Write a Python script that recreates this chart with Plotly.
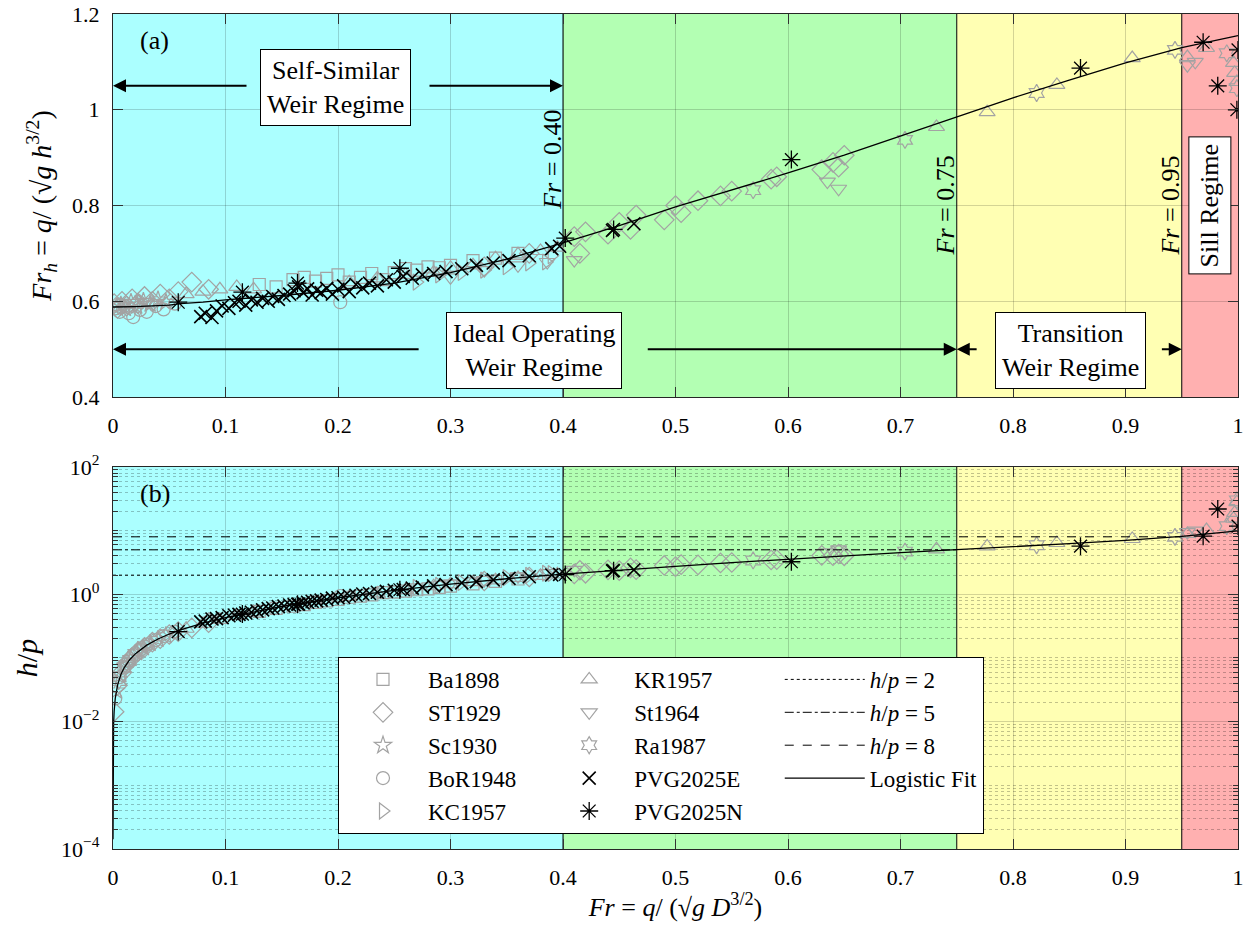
import plotly.graph_objects as go

FONT = "Liberation Serif"
GRAY = "#a3a3a3"

# ---------------- data: Fr, Fr_h and h/p for each source ----------------
ba1898_fr = [0.13, 0.145, 0.16, 0.17, 0.18, 0.19, 0.20, 0.21, 0.22, 0.23, 0.24, 0.25, 0.26, 0.27, 0.28, 0.29, 0.30, 0.32, 0.34, 0.36]
ba1898_frh = [0.635, 0.63, 0.645, 0.65, 0.642, 0.648, 0.655, 0.64, 0.65, 0.658, 0.645, 0.66, 0.668, 0.665, 0.672, 0.67, 0.675, 0.685, 0.69, 0.70]
ba1898_hp = [0.54, 0.60, 0.65, 0.69, 0.75, 0.79, 0.83, 0.90, 0.94, 0.98, 1.06, 1.08, 1.12, 1.18, 1.22, 1.29, 1.35, 1.46, 1.60, 1.74]

st1929_fr = [0.001, 0.004, 0.008, 0.012, 0.017, 0.022, 0.028, 0.035, 0.042, 0.05, 0.058, 0.07, 0.085,
             0.33, 0.37, 0.41, 0.415, 0.42, 0.44, 0.45, 0.46, 0.465, 0.49, 0.50, 0.505, 0.52, 0.54, 0.55,
             0.585, 0.59, 0.63, 0.64, 0.645, 0.65]
st1929_frh = [0.595, 0.585, 0.60, 0.59, 0.605, 0.595, 0.61, 0.60, 0.615, 0.605, 0.62, 0.64, 0.625,
              0.672, 0.70, 0.735, 0.70, 0.745, 0.74, 0.765, 0.75, 0.78, 0.77, 0.80, 0.785, 0.81, 0.82, 0.83,
              0.855, 0.86, 0.875, 0.89, 0.88, 0.905]
st1929_hp = [0.0143, 0.0373, 0.0596, 0.0805, 0.102, 0.125, 0.147, 0.177, 0.201, 0.234, 0.259, 0.297, 0.36,
             1.62, 1.87, 2.10, 2.39, 2.14, 2.42, 2.36, 2.60, 2.44, 2.84, 2.72, 2.92, 2.90, 3.11, 3.16,
             3.47, 3.50, 4.08, 4.04, 4.30, 4.03]

sc1930_fr = [0.003, 0.007, 0.011, 0.016, 0.021, 0.027, 0.033, 0.04, 0.047]
sc1930_frh = [0.588, 0.592, 0.585, 0.598, 0.59, 0.60, 0.594, 0.603, 0.598]
sc1930_hp = [0.0305, 0.0547, 0.0761, 0.0983, 0.121, 0.145, 0.170, 0.196, 0.225]

bor1948_fr = [0.002, 0.006, 0.01, 0.014, 0.018, 0.024, 0.03, 0.038, 0.045, 0.055, 0.202]
bor1948_frh = [0.585, 0.578, 0.59, 0.575, 0.567, 0.582, 0.578, 0.59, 0.583, 0.595, 0.598]
bor1948_hp = [0.0232, 0.050, 0.0707, 0.0917, 0.1115, 0.1355, 0.162, 0.1915, 0.221, 0.257, 0.942]

kc1957_fr = [0.01, 0.025, 0.27, 0.29, 0.31, 0.33, 0.35, 0.37, 0.385, 0.39]
kc1957_frh = [0.59, 0.60, 0.64, 0.655, 0.66, 0.665, 0.672, 0.68, 0.682, 0.695]
kc1957_hp = [0.0707, 0.137, 1.29, 1.38, 1.53, 1.68, 1.83, 1.99, 2.14, 2.12]

kr1957_fr = [0.065, 0.08, 0.095, 0.11, 0.125, 0.21, 0.235, 0.26, 0.285, 0.30, 0.32, 0.34, 0.36, 0.38, 0.395,
             0.732, 0.777, 0.839, 0.906, 0.955, 0.972, 0.996, 0.997, 0.999]
kr1957_frh = [0.615, 0.62, 0.625, 0.63, 0.625, 0.64, 0.648, 0.655, 0.66, 0.67, 0.675, 0.69, 0.698, 0.705, 0.712,
              0.964, 0.995, 1.052, 1.108, 1.11, 1.129, 1.098, 1.077, 1.058]
kr1957_hp = [0.288, 0.343, 0.398, 0.455, 0.52, 0.91, 1.035, 1.17, 1.34, 1.44, 1.55, 1.66, 1.81, 1.95, 2.06,
             5.1, 5.65, 6.4, 7.4, 8.9, 10.2, 15.5, 19.0, 28.0]

st1964_fr = [0.012, 0.03, 0.30, 0.33, 0.36, 0.386, 0.41, 0.635, 0.645, 0.955, 0.962]
st1964_frh = [0.59, 0.598, 0.65, 0.665, 0.675, 0.682, 0.686, 0.85, 0.835, 1.093, 1.10]
st1964_hp = [0.0805, 0.157, 1.48, 1.68, 1.92, 2.16, 2.42, 4.56, 5.1, 9.5, 10.0]

ra1987_fr = [0.005, 0.02, 0.569, 0.704, 0.821, 0.944, 0.99, 0.999]
ra1987_frh = [0.59, 0.595, 0.832, 0.937, 1.035, 1.125, 1.118, 1.045]
ra1987_hp = [0.0433, 0.116, 3.4, 4.7, 5.9, 8.0, 11.8, 30.0]

pvg2025e_fr = [0.078, 0.082, 0.088, 0.092, 0.097, 0.103, 0.108, 0.112, 0.118, 0.123, 0.128, 0.133, 0.138,
               0.142, 0.147, 0.152, 0.157, 0.161, 0.165, 0.169, 0.173, 0.177, 0.181, 0.185, 0.19, 0.195,
               0.20, 0.205, 0.21, 0.216, 0.222, 0.228, 0.235, 0.243, 0.25, 0.258, 0.266, 0.275, 0.285,
               0.296, 0.31, 0.323, 0.338, 0.352, 0.37, 0.39, 0.397, 0.444, 0.463]
pvg2025e_frh = [0.568, 0.575, 0.566, 0.58, 0.59, 0.585, 0.597, 0.60, 0.592, 0.603, 0.598, 0.606, 0.60,
                0.61, 0.604, 0.612, 0.615, 0.622, 0.63, 0.618, 0.626, 0.613, 0.623, 0.618, 0.627, 0.615,
                0.625, 0.632, 0.62, 0.635, 0.628, 0.638, 0.632, 0.645, 0.64, 0.652, 0.648, 0.655, 0.658,
                0.662, 0.668, 0.675, 0.68, 0.685, 0.695, 0.71, 0.715, 0.748, 0.762]
pvg2025e_hp = [0.37, 0.38, 0.41, 0.415, 0.43, 0.46, 0.47, 0.485, 0.51, 0.522, 0.548, 0.57, 0.595,
               0.61, 0.64, 0.655, 0.68, 0.69, 0.70, 0.735, 0.75, 0.78, 0.79, 0.81, 0.83, 0.87,
               0.885, 0.90, 0.95, 0.965, 1.01, 1.03, 1.08, 1.11, 1.16, 1.19, 1.25, 1.30, 1.36,
               1.42, 1.51, 1.58, 1.69, 1.78, 1.89, 2.01, 2.06, 2.33, 2.42]

pvg2025n_fr = [0.058, 0.115, 0.164, 0.255, 0.402, 0.445, 0.603, 0.86, 0.969, 0.982, 1.0, 0.999]
pvg2025n_frh = [0.598, 0.619, 0.638, 0.669, 0.732, 0.75, 0.896, 1.087, 1.141, 1.05, 1.125, 1.0]
pvg2025n_hp = [0.26, 0.49, 0.70, 1.18, 2.05, 2.35, 3.25, 5.7, 8.2, 21.9, 11.8, 150.0]

# logistic fit curve
fit_fr = [1e-6, 1e-5, 1e-4, 5e-4, 0.001, 0.002, 0.004, 0.007, 0.01, 0.015, 0.02, 0.03, 0.04, 0.05, 0.06,
          0.08, 0.10, 0.15, 0.20, 0.25, 0.30, 0.35, 0.40, 0.45, 0.50, 0.55, 0.60, 0.65, 0.70, 0.75, 0.80,
          0.85, 0.90, 0.95, 1.0]
fit_frh = [0.588, 0.588, 0.588, 0.588, 0.588, 0.588, 0.588, 0.588, 0.588, 0.589, 0.589, 0.590, 0.591, 0.592,
           0.595, 0.598, 0.603, 0.612, 0.623, 0.638, 0.660, 0.688, 0.722, 0.758, 0.797, 0.832, 0.868, 0.905,
           0.945, 0.985, 1.025, 1.062, 1.098, 1.130, 1.155]
fit_hp = [1.42e-4, 6.6e-4, 3.07e-3, 9.05e-3, 0.01445, 0.0231, 0.0372, 0.055, 0.0708, 0.0948, 0.117, 0.159,
          0.199, 0.238, 0.276, 0.353, 0.432, 0.644, 0.883, 1.155, 1.445, 1.757, 2.07, 2.41, 2.74, 3.15,
          3.58, 4.05, 4.52, 5.02, 5.57, 6.25, 7.06, 8.16, 9.91]

# regime boundaries (Fr) and constant h/p guide lines
regime_edges = [0.0, 0.40, 0.75, 0.95, 1.0]
hp_levels = [2, 5, 8]
hp_level_ends = [0.40, 0.75, 0.95]

# ---------------- styling ----------------
regime_colors = ["#abffff", "#b3ffb3", "#ffffb3", "#ffb0b0"]
NB = "&nbsp;"

sources = [
    ("Ba1898", ba1898_fr, ba1898_frh, ba1898_hp, "square-open", 12, GRAY, 1.2, "g1"),
    ("ST1929", st1929_fr, st1929_frh, st1929_hp, "diamond-open", 15, GRAY, 1.2, "g1"),
    ("Sc1930", sc1930_fr, sc1930_frh, sc1930_hp, "star-open", 13, GRAY, 1.2, "g1"),
    ("BoR1948" + NB * 4, bor1948_fr, bor1948_frh, bor1948_hp, "circle-open", 13, GRAY, 1.2, "g1"),
    ("KC1957", kc1957_fr, kc1957_frh, kc1957_hp, "triangle-right-open", 14, GRAY, 1.2, "g1"),
    ("KR1957", kr1957_fr, kr1957_frh, kr1957_hp, "triangle-up-open", 14, GRAY, 1.2, "g2"),
    ("St1964", st1964_fr, st1964_frh, st1964_hp, "triangle-down-open", 14, GRAY, 1.2, "g2"),
    ("Ra1987", ra1987_fr, ra1987_frh, ra1987_hp, "hexagram-open", 13, GRAY, 1.2, "g2"),
]
black_sources = [
    ("PVG2025E" + NB * 6, pvg2025e_fr, pvg2025e_frh, pvg2025e_hp, "x-thin-open", 13, "black", 1.6, "g2"),
    ("PVG2025N", pvg2025n_fr, pvg2025n_frh, pvg2025n_hp, "asterisk-open", 15, "black", 1.3, "g2"),
]

fig = go.Figure()


def add_source(name, fr, frh, hp, symbol, size, color, lw, group):
    mk = dict(symbol=symbol, size=size, color=color, line=dict(color=color, width=lw))
    fig.add_trace(go.Scatter(x=fr, y=frh, mode="markers", marker=mk, name=name,
                             legendgroup=group, showlegend=True, xaxis="x", yaxis="y"))
    fig.add_trace(go.Scatter(x=fr, y=hp, mode="markers", marker=mk, name=name,
                             legendgroup=group, showlegend=False, xaxis="x2", yaxis="y2"))


for s in sources:
    add_source(*s)

# constant h/p guide lines (bottom panel)
for lvl, end, dash in zip(hp_levels, hp_level_ends, ["dot", "dashdot", "dash"]):
    fig.add_trace(go.Scatter(x=[0, end], y=[lvl, lvl], mode="lines",
                             line=dict(color="black", width=1, dash=dash),
                             name=f"<i>h</i>/<i>p</i> = {lvl}", legendgroup="g3",
                             xaxis="x2", yaxis="y2"))

# logistic fit in both panels
fig.add_trace(go.Scatter(x=fit_fr, y=fit_frh, mode="lines", line=dict(color="black", width=1.3),
                         name="Logistic Fit", legendgroup="g3", xaxis="x", yaxis="y"))
fig.add_trace(go.Scatter(x=fit_fr, y=fit_hp, mode="lines", line=dict(color="black", width=1.3),
                         name="Logistic Fit", legendgroup="g3", showlegend=False, xaxis="x2", yaxis="y2"))

for s in black_sources:
    add_source(*s)

# ---------------- regime shading and boundaries ----------------
shapes = []
for xref, yref in [("x", "y domain"), ("x2", "y2 domain")]:
    for i, col in enumerate(regime_colors):
        shapes.append(dict(type="rect", xref=xref, yref=yref, x0=regime_edges[i], x1=regime_edges[i + 1],
                           y0=0, y1=1, fillcolor=col, line=dict(width=0), layer="below"))
    for xb in regime_edges[1:4]:
        shapes.append(dict(type="line", xref=xref, yref=yref, x0=xb, x1=xb, y0=0, y1=1,
                           line=dict(color="black", width=1), layer="below"))

# ---------------- annotations ----------------
TXT = dict(family=FONT, size=26, color="black")
box = dict(bgcolor="white", bordercolor="black", borderwidth=1, borderpad=6, showarrow=False, font=TXT)
ann = []
ann.append(dict(x=0.037, y=1.145, xref="x", yref="y", text="(a)", showarrow=False, font=TXT))
ann.append(dict(x=0.037, y=1.59, xref="x2", yref="y2", text="(b)", showarrow=False, font=TXT))
ann.append(dict(x=0.198, y=1.047, xref="x", yref="y", text="Self-Similar<br>Weir Regime", **box))
ann.append(dict(x=0.374, y=0.498, xref="x", yref="y", text="Ideal Operating<br>Weir Regime", **box))
ann.append(dict(x=0.851, y=0.498, xref="x", yref="y", text="Transition<br>Weir Regime", **box))
ann.append(dict(x=0.975, y=0.80, xref="x", yref="y", text="Sill Regime", textangle=-90, **box))
for xl, yl, lbl in [(0.390, 0.895, "0.40"), (0.7404, 0.80, "0.75"), (0.9396, 0.80, "0.95")]:
    ann.append(dict(x=xl, y=yl, xref="x", yref="y", text=f"<i>Fr</i> = {lbl}", textangle=-90,
                    showarrow=False, font=TXT))

arrow = dict(xref="x", yref="y", axref="x", ayref="y", text="", showarrow=True,
             arrowhead=2, arrowsize=1.3, arrowwidth=2, arrowcolor="black")
for head, tail, yv in [(0.0, 0.12, 1.05), (0.40, 0.28, 1.05),
                       (0.0, 0.273, 0.50), (0.75, 0.474, 0.50),
                       (0.75, 0.769, 0.50), (0.95, 0.931, 0.50)]:
    ann.append(dict(x=head, y=yv, ax=tail, ay=yv, **arrow))

# ---------------- axes ----------------
TICKF = dict(family=FONT, size=22, color="black")
x_ticks = [i / 10 for i in range(11)]
x_text = ["0"] + [f"{t:.1f}" for t in x_ticks[1:-1]] + ["1"]
GRID = "rgba(0,0,0,0.17)"

xcommon = dict(range=[0, 1], tickvals=x_ticks, ticktext=x_text, ticks="inside", ticklen=10,
               tickcolor="#333", showline=True, linecolor="#262626", linewidth=1.2, mirror="ticks",
               showgrid=True, gridcolor=GRID, gridwidth=1, zeroline=False, tickfont=TICKF,
               ticklabelstandoff=8, automargin=False)

fig.update_layout(
    width=1252, height=940,
    margin=dict(l=113, r=14, t=14, b=91),
    paper_bgcolor="white", plot_bgcolor="white",
    font=dict(family=FONT, color="black"),
    xaxis=dict(domain=[0, 1], anchor="y", **xcommon),
    yaxis=dict(domain=[0.5413, 1], anchor="x", range=[0.4, 1.2],
               tickvals=[0.4, 0.6, 0.8, 1.0, 1.2], ticktext=["0.4", "0.6", "0.8", "1", "1.2"],
               ticks="inside", ticklen=10, tickcolor="#333", showline=True, linecolor="#262626",
               linewidth=1.2, mirror="ticks", showgrid=True, gridcolor=GRID, zeroline=False,
               tickfont=TICKF, ticklabelstandoff=8, automargin=False,
               title=dict(text="<i>Fr</i><sub><i>h</i></sub> = <i>q</i>/ (√<i>g</i> <i>h</i><sup>3/2</sup>)",
                          font=dict(family=FONT, size=28), standoff=12)),
    xaxis2=dict(domain=[0, 1], anchor="y2", **xcommon,
                title=dict(text="<i>Fr</i> = <i>q</i>/ (√<i>g</i> <i>D</i><sup>3/2</sup>)",
                           font=dict(family=FONT, size=26), standoff=8)),
    yaxis2=dict(domain=[0, 0.4575], anchor="x2", type="log", range=[-4, 2],
                tickvals=[1e-4, 1e-2, 1, 100],
                ticktext=["10<sup>−4</sup>", "10<sup>−2</sup>", "10<sup>0</sup>", "10<sup>2</sup>"],
                ticks="inside", ticklen=10, tickcolor="#333", showline=True, linecolor="#262626",
                linewidth=1.2, mirror="ticks", showgrid=True, gridcolor=GRID, zeroline=False,
                tickfont=TICKF, ticklabelstandoff=8, automargin=False,
                minor=dict(tickvals=[m * 10.0 ** k for k in range(-4, 2) for m in range(1, 10)
                                     if not (m == 1 and k % 2 == 0)],
                           ticks="inside", ticklen=5, tickcolor="#333", showgrid=True,
                           gridcolor="rgba(0,0,0,0.24)", griddash="dot", gridwidth=1),
                title=dict(text="<i>h</i>/<i>p</i>", font=dict(family=FONT, size=30), standoff=14)),
    shapes=shapes,
    annotations=ann,
    legend=dict(orientation="h", traceorder="grouped", x=0.2, xanchor="left", y=0.23, yanchor="top",
                bgcolor="white", bordercolor="black", borderwidth=1,
                font=dict(family=FONT, size=23, color="black"), itemwidth=80),
    showlegend=True,
)

fig.write_html("out.html")
